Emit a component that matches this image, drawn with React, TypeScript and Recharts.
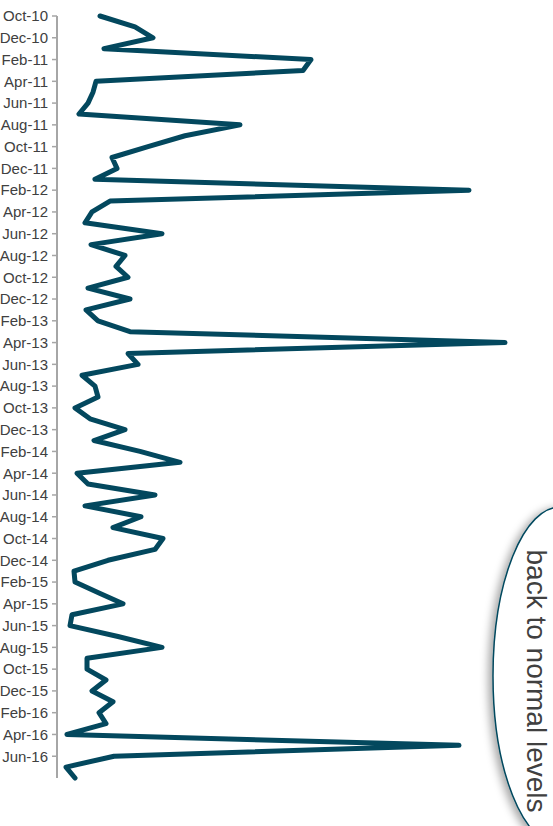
import { LineChart, Line, XAxis, YAxis } from 'recharts';

// monthly readings, Oct-10 .. Aug-16
const months = [
  'Oct-10', 'Nov-10', 'Dec-10',
  'Jan-11', 'Feb-11', 'Mar-11', 'Apr-11', 'May-11', 'Jun-11', 'Jul-11', 'Aug-11', 'Sep-11', 'Oct-11', 'Nov-11', 'Dec-11',
  'Jan-12', 'Feb-12', 'Mar-12', 'Apr-12', 'May-12', 'Jun-12', 'Jul-12', 'Aug-12', 'Sep-12', 'Oct-12', 'Nov-12', 'Dec-12',
  'Jan-13', 'Feb-13', 'Mar-13', 'Apr-13', 'May-13', 'Jun-13', 'Jul-13', 'Aug-13', 'Sep-13', 'Oct-13', 'Nov-13', 'Dec-13',
  'Jan-14', 'Feb-14', 'Mar-14', 'Apr-14', 'May-14', 'Jun-14', 'Jul-14', 'Aug-14', 'Sep-14', 'Oct-14', 'Nov-14', 'Dec-14',
  'Jan-15', 'Feb-15', 'Mar-15', 'Apr-15', 'May-15', 'Jun-15', 'Jul-15', 'Aug-15', 'Sep-15', 'Oct-15', 'Nov-15', 'Dec-15',
  'Jan-16', 'Feb-16', 'Mar-16', 'Apr-16', 'May-16', 'Jun-16', 'Jul-16', 'Aug-16',
];

const values = [
  43, 78, 96,
  47, 254, 246, 39, 36, 31, 22, 183, 128, 91, 55, 60,
  38, 412, 53, 35, 28, 105, 34, 68, 59, 71, 31, 73,
  29, 41, 73, 448, 71, 81, 25, 38, 41, 18, 33, 68,
  37, 83, 123, 20, 31, 98, 28, 84, 56, 106, 98, 51,
  17, 18, 42, 66, 15, 13, 61, 105, 30, 30, 49, 35,
  56, 42, 49, 10, 402, 57, 9, 18,
];

// labels shown on the axis: every second month up to Jun-16
const tickMonths = months.filter((_, i) => i % 2 === 0 && i <= 68);

const data = months.map((month, i) => ({ month, value: values[i] }));

const LINE_COLOR = '#03485e';
const AXIS_COLOR = '#a6a6a6';

export default function App() {
  return (
    <div style={{ position: 'absolute', left: 0, top: 0, width: 553, height: 826 }}>
      <LineChart
        width={553}
        height={826}
        layout="vertical"
        data={data}
        margin={{ top: 16, right: 0, bottom: 48, left: 0 }}
      >
        <XAxis type="number" hide domain={[0, 496]} />
        <YAxis
          type="category"
          dataKey="month"
          width={57}
          ticks={tickMonths}
          interval={0}
          padding={{ top: 0, bottom: 0 }}
          axisLine={{ stroke: AXIS_COLOR, strokeWidth: 2 }}
          tickLine={{ stroke: AXIS_COLOR, strokeWidth: 1.5 }}
          tickSize={5}
          tickMargin={4}
          tick={{ fill: '#404040', fontSize: 15, fontFamily: 'Liberation Sans, Arial, sans-serif' }}
        />
        <Line
          type="linear"
          dataKey="value"
          stroke={LINE_COLOR}
          strokeWidth={5}
          strokeLinejoin="round"
          strokeLinecap="round"
          dot={false}
          isAnimationActive={false}
        />
      </LineChart>

      <svg
        width={553}
        height={826}
        style={{ position: 'absolute', left: 0, top: 0, pointerEvents: 'none' }}
      >
        <defs>
          <filter id="shadow" x="-30%" y="-10%" width="160%" height="120%">
            <feDropShadow dx={-4} dy={2} stdDeviation={4} floodColor="#000" floodOpacity={0.35} />
          </filter>
        </defs>
        <ellipse
          cx={560}
          cy={676}
          rx={67}
          ry={169}
          fill="#fff"
          stroke={LINE_COLOR}
          strokeWidth={1.5}
          filter="url(#shadow)"
        />
        <text
          transform="translate(527,681) rotate(90)"
          textAnchor="middle"
          fontSize={28}
          fill="#404040"
          fontFamily="Liberation Sans, Arial, sans-serif"
        >
          back to normal levels
        </text>
      </svg>
    </div>
  );
}
